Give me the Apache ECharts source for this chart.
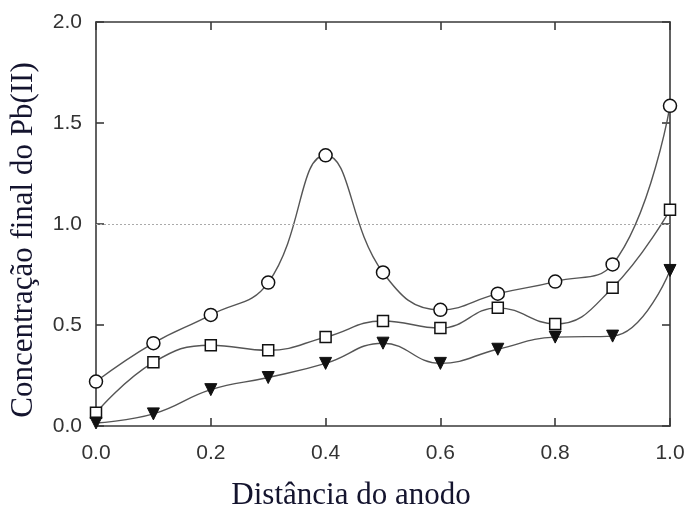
<!DOCTYPE html>
<html>
<head>
<meta charset="utf-8">
<script src="https://cdn.jsdelivr.net/npm/echarts@6/dist/echarts.min.js"></script>
<style>html,body{margin:0;padding:0;background:#fff}#c{width:691px;height:513px}</style>
</head>
<body>
<div id="c"></div>
<script>
var xValues = [0.0, 0.1, 0.2, 0.3, 0.4, 0.5, 0.6, 0.7, 0.8, 0.9, 1.0];
var circleSeries = [0.22, 0.41, 0.55, 0.71, 1.34, 0.76, 0.575, 0.655, 0.715, 0.80, 1.585];
var squareSeries = [0.065, 0.315, 0.40, 0.375, 0.44, 0.52, 0.485, 0.585, 0.505, 0.685, 1.07];
var triangleSeries = [0.015, 0.06, 0.18, 0.24, 0.31, 0.41, 0.31, 0.38, 0.44, 0.445, 0.77];
var xTickLabels = ['0.0', '0.2', '0.4', '0.6', '0.8', '1.0'];
var yTickLabels = ['0.0', '0.5', '1.0', '1.5', '2.0'];
var xTitle = 'Distância do anodo';
var yTitle = 'Concentração final do Pb(II)';

function pairs(vals) { return xValues.map(function (x, i) { return [x, vals[i]]; }); }

var chart = echarts.init(document.getElementById('c'), null, {renderer: 'canvas'});
function axisLine() { return {show: true, onZero: false, lineStyle: {color: '#3a3a3a', width: 1.6}}; }
function axisTick() { return {show: true, inside: true, length: 8, lineStyle: {color: '#3a3a3a', width: 1.6}}; }
function labelStyle(extra) {
  var o = {color: '#333', fontSize: 21, fontFamily: 'Liberation Sans, Arial, sans-serif'};
  for (var k in extra) o[k] = extra[k];
  return o;
}

function mkSeries(name, vals, symbol, size, rotate, filled, extra) {
  var s = {
    name: name,
    type: 'line',
    data: pairs(vals),
    smooth: 0.45,
    symbol: symbol,
    symbolSize: size,
    symbolRotate: rotate,
    showAllSymbol: true,
    clip: false,
    lineStyle: {color: '#555', width: 1.4},
    itemStyle: filled ? {color: '#111', borderColor: '#111', borderWidth: 1} : {color: '#fff', borderColor: '#111', borderWidth: 1.5},
    z: 3
  };
  if (extra) { for (var k in extra) s[k] = extra[k]; }
  return s;
}

var option = {
  animation: false,
  backgroundColor: '#fff',
  grid: {left: 96, right: 21, top: 22, bottom: 87},
  xAxis: [
    {type: 'value', min: 0, max: 1, interval: 0.2, position: 'bottom',
     axisLine: axisLine(), axisTick: axisTick(), splitLine: {show: false},
     axisLabel: labelStyle({margin: 17, formatter: function (v) { return xTickLabels[Math.round(v / 0.2)]; }})},
    {type: 'value', min: 0, max: 1, interval: 0.2, position: 'top',
     axisLine: axisLine(), axisTick: axisTick(), splitLine: {show: false}, axisLabel: {show: false}}
  ],
  yAxis: [
    {type: 'value', min: 0, max: 2, interval: 0.5, position: 'left',
     axisLine: axisLine(), axisTick: axisTick(), splitLine: {show: false},
     axisLabel: labelStyle({margin: 14, formatter: function (v) { return yTickLabels[Math.round(v / 0.5)]; }})},
    {type: 'value', min: 0, max: 2, interval: 0.5, position: 'right',
     axisLine: axisLine(), axisTick: axisTick(), splitLine: {show: false}, axisLabel: {show: false}}
  ],
  series: [
    mkSeries('circle', circleSeries, 'circle', 13, 0, false, {
      markLine: {silent: true, symbol: ['none', 'none'], label: {show: false},
        lineStyle: {color: '#aaa', type: [2, 2], width: 1.2},
        data: [{yAxis: 1.0}]}
    }),
    mkSeries('square', squareSeries, 'rect', 11, 0, false),
    mkSeries('triangle', triangleSeries, 'triangle', 12, 180, true)
  ],
  graphic: [
    {type: 'text', x: 351, y: 496,
     style: {text: xTitle, fill: '#14142e', fontSize: 31, fontFamily: 'Liberation Serif, Times New Roman, serif',
             textAlign: 'center', textVerticalAlign: 'middle'}},
    {type: 'text', x: 24, y: 240, rotation: Math.PI / 2,
     style: {text: yTitle, fill: '#14142e', fontSize: 31, fontFamily: 'Liberation Serif, Times New Roman, serif',
             textAlign: 'center', textVerticalAlign: 'middle'}}
  ]
};
chart.setOption(option);
</script>
</body>
</html>
